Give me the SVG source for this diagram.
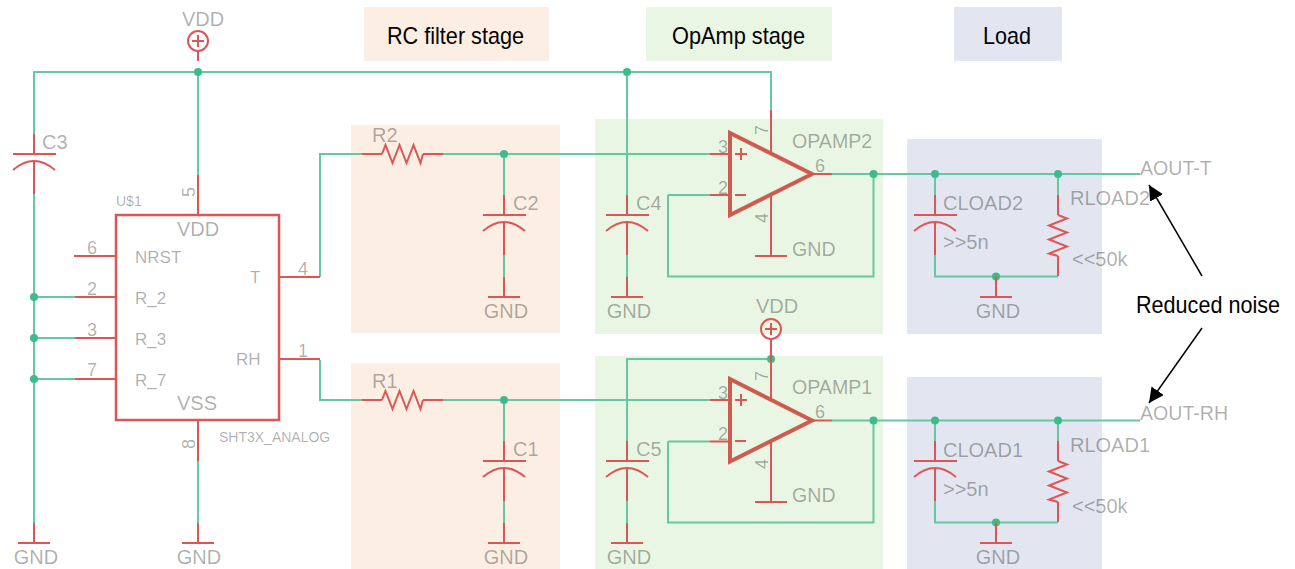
<svg xmlns="http://www.w3.org/2000/svg" width="1295" height="569" viewBox="0 0 1295 569">
<style>
text{font-family:"Liberation Sans",Arial,sans-serif}
.w{fill:none;stroke:#66c8a2;stroke-width:2}
.p{fill:none;stroke:#dc5656;stroke-width:2}
.b{fill:none;stroke:#dc5656;stroke-width:2.500}
.t{fill:none;stroke:#cf5a4e;stroke-width:4;stroke-linejoin:miter}
.j{fill:#3dbb8b}
.l{fill:#000;fill-opacity:.33;font-size:20px}
.m{font-size:17px}
.n{font-size:18px}
.v{font-size:19.600px}
.s{font-size:14px}
.c{text-anchor:middle}
.h{fill:#000;font-size:24px}
.rc{fill:#fceee3}.op{fill:#eaf6e4}.ld{fill:#e3e6f0}
</style>
<defs>
<g id="cap"><path class="p" d="M0 0V20M0 27V60M-21 20H22M-21 36Q0 18 21 36"/></g>
<g id="res"><path class="p" d="M0 0L3.500-9L10.500 9L17.500-9L24.500 9L31.500-9L38.500 9L41 0"/></g>
<g id="gnd"><path class="p" d="M0-20V0M-16 0H16"/></g>
<g id="vdd"><circle class="p" cx="0" cy="0" r="10"/><path class="p" d="M-6 0H6M0-6V6M0 10V20"/></g>
<marker id="ah" markerUnits="userSpaceOnUse" markerWidth="17" markerHeight="16" refX="15" refY="7.500" orient="auto"><path d="M0 0L15 7.500L0 15z" fill="#000"/></marker>
</defs>
<g id="panels">
<rect class="rc" x="364" y="7" width="185" height="54"/>
<rect class="op" x="646" y="7" width="186" height="54"/>
<rect class="ld" x="954" y="7" width="108" height="54"/>
<rect class="rc" x="351" y="125" width="209" height="208"/>
<rect class="rc" x="351" y="363" width="209" height="206"/>
<rect class="op" x="595" y="119" width="288" height="215"/>
<rect class="op" x="595" y="356" width="288" height="213"/>
<rect class="ld" x="907" y="139" width="195" height="195"/>
<rect class="ld" x="907" y="377" width="195" height="192"/>
</g>
<g id="connectors">
<path class="w" d="M34 134V72H771V110M198 72V175M627 72V195M34 194V523M34 297H75M34 338H75M34 379H75M198 461V523"/>
<path class="w" d="M320 277V154H362M443 154H710M504 154V195M504 255V277M668 195H710M668 195V276.500H873.500V174M832 174H1140M935 174V195M1058 174V195M935 255V276.500H1058M627 255V277"/>
<path class="w" d="M320 360V400H362M443 400H710M504 400V441M504 501V523M668 441.500H710M668 441.500V522.500H873.500V420.500M832 420.500H1140M935 420.500V441M1058 420.500V441M935 501V522.500H1058M771 359H627V441M627 501V523"/>
<circle class="j" cx="198" cy="72" r="4"/><circle class="j" cx="627" cy="72" r="4"/>
<circle class="j" cx="34" cy="297" r="4"/><circle class="j" cx="34" cy="338" r="4"/><circle class="j" cx="34" cy="379" r="4"/>
<circle class="j" cx="504" cy="154" r="4"/><circle class="j" cx="873.500" cy="174" r="4"/><circle class="j" cx="935" cy="174" r="4"/><circle class="j" cx="1058" cy="174" r="4"/><circle class="j" cx="996" cy="276.500" r="4"/>
<circle class="j" cx="504" cy="400" r="4"/><circle class="j" cx="873.500" cy="420.500" r="4"/><circle class="j" cx="935" cy="420.500" r="4"/><circle class="j" cx="1058" cy="420.500" r="4"/><circle class="j" cx="996" cy="522.500" r="4"/><circle class="j" cx="771" cy="359" r="4"/>
<path d="M1202 276L1149 185" fill="none" stroke="#000" stroke-width="1.500" marker-end="url(#ah)"/>
<path d="M1202 328L1149 403" fill="none" stroke="#000" stroke-width="1.500" marker-end="url(#ah)"/>
</g>
<g id="VDD1"><use href="#vdd" x="198" y="41"/><text class="l c" x="203" y="26">VDD</text></g>
<g id="C3"><use href="#cap" x="34" y="134"/><text class="l" x="42" y="149">C3</text></g>
<g id="GND1"><use href="#gnd" x="34" y="543"/><text class="l c" x="36" y="564">GND</text></g>
<g id="GND2"><use href="#gnd" x="198" y="543"/><text class="l c" x="199" y="564">GND</text></g>
<g id="U1">
<rect class="b" x="116" y="215" width="163" height="205"/>
<path class="p" d="M198 175V215M74 256H116M75 297H116M75 338H116M75 379H116M279 277H320M279 359H320M198 420V461"/>
<text class="l s" x="116" y="206">U$1</text>
<text class="l c" x="198" y="236">VDD</text><text class="l c" x="197" y="410">VSS</text>
<text class="l m" x="135" y="263">NRST</text><text class="l m" x="135" y="304">R_2</text><text class="l m" x="135" y="345">R_3</text><text class="l m" x="135" y="386">R_7</text>
<text class="l m" x="250" y="283">T</text><text class="l m" x="236" y="365">RH</text>
<text class="l n c" x="92" y="254">6</text><text class="l n c" x="92" y="295">2</text><text class="l n c" x="92" y="336">3</text><text class="l n c" x="92" y="376">7</text>
<text class="l n c" x="303" y="275">4</text><text class="l n c" x="303" y="357">1</text>
<text class="l n c" transform="translate(195 192) rotate(-90)">5</text><text class="l n c" transform="translate(195 444) rotate(-90)">8</text>
<text class="l s" x="219" y="442">SHT3X_ANALOG</text>
</g>
<g id="R2"><path class="p" d="M362 154H382M423 154H443"/><use href="#res" x="382" y="154"/><text class="l" x="372" y="142">R2</text></g>
<g id="C2"><use href="#cap" x="504" y="195"/><text class="l" x="513" y="210">C2</text></g>
<g id="GND3"><use href="#gnd" x="504" y="297"/><text class="l c" x="506" y="318">GND</text></g>
<g id="R1"><path class="p" d="M362 400H382M423 400H443"/><use href="#res" x="382" y="400"/><text class="l" x="372" y="388">R1</text></g>
<g id="C1"><use href="#cap" x="504" y="441"/><text class="l" x="513" y="456">C1</text></g>
<g id="GND4"><use href="#gnd" x="504" y="543"/><text class="l c" x="506" y="564">GND</text></g>
<g id="C4"><use href="#cap" x="627" y="195"/><text class="l" x="636" y="210">C4</text></g>
<g id="GND5"><use href="#gnd" x="627" y="297"/><text class="l c" x="629" y="318">GND</text></g>
<g id="C5"><use href="#cap" x="627" y="441"/><text class="l" x="636" y="456">C5</text></g>
<g id="GND6"><use href="#gnd" x="627" y="543"/><text class="l c" x="629" y="564">GND</text></g>
<g id="OPAMP2">
<path class="p" d="M710 154H730M710 195H730M812 174H832M771 110V152M771 195V256M755 256H787M735 154H747M741 148V160M735 195H746"/>
<path class="t" d="M730 133L812 174L730 215Z"/>
<text class="l n c" x="723" y="153">3</text><text class="l n c" x="723" y="194">2</text><text class="l n c" x="820" y="172">6</text>
<text class="l n c" transform="translate(768 130) rotate(-90)">7</text><text class="l n c" transform="translate(768 218) rotate(-90)">4</text>
<text class="l v" x="792" y="148">OPAMP2</text><text class="l v" x="792" y="256">GND</text>
</g>
<g id="VDD2"><use href="#vdd" x="771" y="329"/><path class="p" d="M771 349V359"/><text class="l c" x="777" y="313">VDD</text></g>
<g id="OPAMP1">
<path class="p" d="M710 400H730M710 441.500H730M812 420.500H832M771 359V398M771 441V502M755 502H787M735 400H747M741 394V406M735 441H746"/>
<path class="t" d="M730 379L812 420.500L730 461.500Z"/>
<text class="l n c" x="723" y="399">3</text><text class="l n c" x="723" y="440">2</text><text class="l n c" x="820" y="418">6</text>
<text class="l n c" transform="translate(768 376) rotate(-90)">7</text><text class="l n c" transform="translate(768 464) rotate(-90)">4</text>
<text class="l v" x="792" y="394">OPAMP1</text><text class="l v" x="792" y="502">GND</text>
</g>
<g id="CLOAD2"><use href="#cap" x="935" y="195"/><text class="l" x="943" y="210">CLOAD2</text><text class="l" x="943" y="249">&gt;&gt;5n</text></g>
<g id="RLOAD2"><path class="p" d="M1058 195V215M1058 256V276"/><use href="#res" transform="translate(1058 215) rotate(90)"/><text class="l" x="1070" y="205">RLOAD2</text><text class="l" x="1072" y="266">&lt;&lt;50k</text></g>
<g id="GND7"><path class="p" d="M996 276.500V297M980 297H1012"/><text class="l c" x="998" y="318">GND</text></g>
<g id="CLOAD1"><use href="#cap" x="935" y="441"/><text class="l" x="943" y="456.500">CLOAD1</text><text class="l" x="943" y="495.500">&gt;&gt;5n</text></g>
<g id="RLOAD1"><path class="p" d="M1058 441V461M1058 502V522"/><use href="#res" transform="translate(1058 461) rotate(90)"/><text class="l" x="1070" y="451.500">RLOAD1</text><text class="l" x="1072" y="512.500">&lt;&lt;50k</text></g>
<g id="GND8"><path class="p" d="M996 522.500V543M980 543H1012"/><text class="l c" x="998" y="564">GND</text></g>
<g id="AOUT-T"><text class="l v" x="1140" y="175">AOUT-T</text></g>
<g id="AOUT-RH"><text class="l v" x="1140" y="420">AOUT-RH</text></g>
<g id="labels">
<text class="h" x="387" y="44" textLength="137" lengthAdjust="spacingAndGlyphs">RC filter stage</text>
<text class="h" x="672" y="44" textLength="133" lengthAdjust="spacingAndGlyphs">OpAmp stage</text>
<text class="h" x="983" y="44" textLength="48" lengthAdjust="spacingAndGlyphs">Load</text>
<text class="h" x="1136" y="312.500" textLength="144" lengthAdjust="spacingAndGlyphs">Reduced noise</text>
</g>
</svg>
